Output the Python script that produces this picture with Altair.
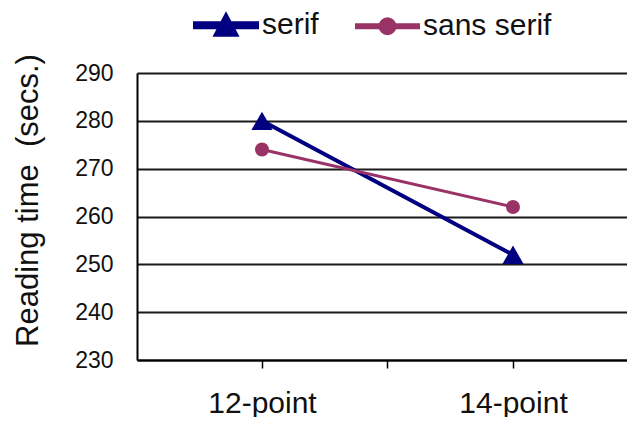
import altair as alt
import pandas as pd

categories = ["12-point", "14-point"]
tick_labels = ["12-point", "", "14-point"]
series_names = ["serif", "sans serif"]
serif_values = [280, 252]
sans_serif_values = [274, 262]
series_colors = ["#000080", "#993366"]
y_ticks = [230, 240, 250, 260, 270, 280, 290]

rows = []
for c, v in zip(categories, serif_values):
    rows.append({"size": c, "series": "serif", "time": v})
for c, v in zip(categories, sans_serif_values):
    rows.append({"size": c, "series": "sans serif", "time": v})
df = pd.DataFrame(rows)

FONT = "Liberation Sans"

x_enc = alt.X(
    "size:N",
    scale=alt.Scale(type="point", domain=tick_labels, padding=0.952, align=0.523),
    axis=alt.Axis(title=None, labelAngle=0, labelFontSize=30, labelFont=FONT,
                  labelColor="#111", labelPadding=44, labelBaseline="alphabetic",
                  tickSize=8, tickColor="black", tickWidth=1.5,
                  domainColor="black", domainWidth=2, grid=False),
)
y_enc = alt.Y(
    "time:Q",
    scale=alt.Scale(domain=[230, 290], nice=False, zero=False),
    axis=alt.Axis(values=y_ticks, title="Reading time\u00a0 (secs.)", titleFontSize=31,
                  titleFont=FONT, titleFontWeight="normal", titleColor="#111",
                  titleX=-109, titleY=127, titleBaseline="middle", titleAlign="center",
                  grid=True, gridColor="#1a1a1a", gridWidth=1.8, ticks=False,
                  labelPadding=24, labelFontSize=23, labelFont=FONT, labelColor="#111",
                  domainColor="black", domainWidth=2),
)
color_scale = alt.Scale(domain=series_names, range=series_colors)

serif_path = "M-1,-0.065L1,-0.065L1,0.065L-1,0.065Z M0,-0.32L0.33,0.3L-0.33,0.3Z"
sans_path = ("M-1,-0.05L1,-0.05L1,0.05L-1,0.05Z "
             "M0.24,0A0.24,0.24 0 1,1 -0.24,0A0.24,0.24 0 1,1 0.24,0Z")

leg = alt.Legend(title=None, orient="none", legendX=56, legendY=-81,
                 direction="horizontal", symbolSize=3844, symbolStrokeWidth=0,
                 symbolOpacity=1, labelFontSize=30, labelFont=FONT, labelColor="#111",
                 labelOffset=3, columnPadding=31, padding=0)

base = alt.Chart(df)

legend_layer = base.transform_filter("false").mark_point(
    filled=True, opacity=1, strokeWidth=0
).encode(
    x=x_enc, y=y_enc,
    shape=alt.Shape("series:N",
                    scale=alt.Scale(domain=series_names, range=[serif_path, sans_path]),
                    legend=leg),
    color=alt.Color("series:N", scale=color_scale, legend=leg),
)

lines = base.mark_line().encode(
    x=x_enc, y=y_enc,
    color=alt.Color("series:N", scale=color_scale, legend=None),
    strokeWidth=alt.StrokeWidth("series:N",
                                scale=alt.Scale(domain=series_names, range=[4, 3]),
                                legend=None),
)

tri = base.transform_filter(alt.datum.series == "serif").mark_point(
    shape="triangle-up", filled=True, size=450, opacity=1
).encode(x=x_enc, y=y_enc,
         color=alt.Color("series:N", scale=color_scale, legend=None))

circ = base.transform_filter(alt.datum.series == "sans serif").mark_point(
    shape="circle", filled=True, size=196, opacity=1
).encode(x=x_enc, y=y_enc,
         color=alt.Color("series:N", scale=color_scale, legend=None))

chart = alt.layer(legend_layer, lines, tri, circ).properties(
    width=490, height=287,
    padding={"left": 129, "top": 65, "right": 0, "bottom": 57},
    autosize=alt.AutoSizeParams(type="none"),
    background="white",
).configure_view(stroke=None)

chart.save("out.html", embed_options={"renderer": "svg", "actions": False})
